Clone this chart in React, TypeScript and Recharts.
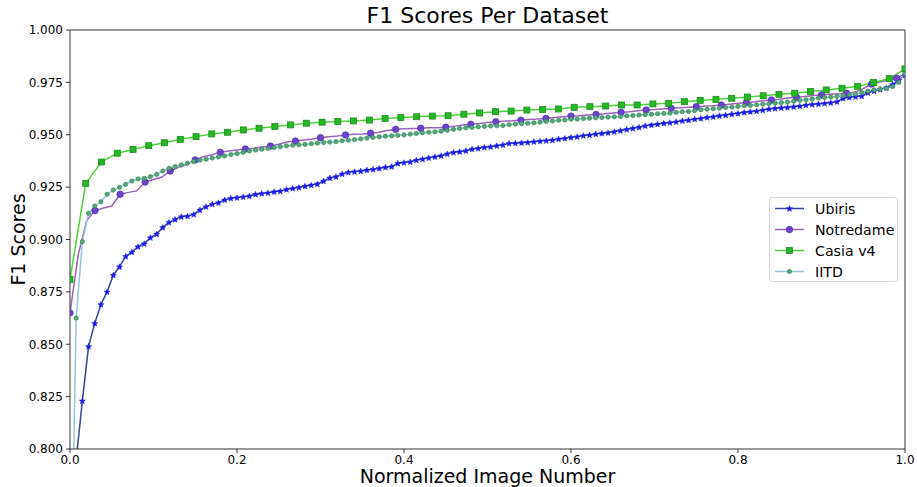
import { LineChart, Line, XAxis, YAxis, Label, ReferenceLine } from "recharts";

// sorted F1 scores per dataset
const ubiris = [
  0.700, 0.795, 0.823, 0.849, 0.860, 0.869, 0.875, 0.883, 0.887, 0.892,
  0.894, 0.8966, 0.898, 0.9009, 0.9026, 0.9058, 0.9082, 0.9096, 0.9109, 0.9112,
  0.912, 0.9141, 0.9157, 0.9169, 0.9176, 0.9189, 0.9197, 0.920, 0.9204, 0.9208,
  0.9216, 0.922, 0.9223, 0.9228, 0.9231, 0.9239, 0.9244, 0.9249, 0.9255, 0.926,
  0.9265, 0.9279, 0.9294, 0.930, 0.9313, 0.9321, 0.9324, 0.9327, 0.9332, 0.9335,
  0.934, 0.9345, 0.9348, 0.9364, 0.9367, 0.9371, 0.9379, 0.9384, 0.939, 0.9395,
  0.940, 0.9409, 0.9416, 0.9419, 0.9424, 0.9432, 0.9435, 0.944, 0.9443, 0.9448,
  0.9452, 0.9459, 0.946, 0.9462, 0.9464, 0.9467, 0.947, 0.9472, 0.9475, 0.948,
  0.9483, 0.9488, 0.9491, 0.9496, 0.9499, 0.9504, 0.9507, 0.951, 0.9515, 0.952,
  0.9526, 0.9531, 0.9536, 0.9543, 0.9547, 0.9551, 0.9555, 0.9558, 0.9562, 0.9567,
  0.957, 0.9575, 0.9578, 0.9583, 0.9586, 0.9591, 0.9594, 0.9599, 0.9602, 0.9607,
  0.961, 0.9613, 0.9618, 0.9623, 0.9626, 0.9629, 0.9631, 0.9634, 0.9637, 0.9642,
  0.9645, 0.9647, 0.965, 0.9653, 0.9658, 0.9674, 0.9679, 0.9682, 0.9685, 0.9701,
  0.9709, 0.9717, 0.9725, 0.9741, 0.9761, 0.9785,
];

const notredame = [
  0.865, 0.893, 0.909, 0.9138, 0.915, 0.916, 0.9216, 0.9225, 0.9232, 0.9274,
  0.9286, 0.9298, 0.9327, 0.9345, 0.9358, 0.938, 0.9395, 0.9405, 0.9416, 0.9422,
  0.9427, 0.9432, 0.9436, 0.9441, 0.9446, 0.9455, 0.9465, 0.947, 0.9475, 0.948,
  0.9486, 0.949, 0.9494, 0.9499, 0.9502, 0.9504, 0.9507, 0.9512, 0.952, 0.9526,
  0.9529, 0.953, 0.9531, 0.9533, 0.9534, 0.9536, 0.954, 0.9546, 0.955, 0.9554,
  0.9558, 0.9562, 0.9565, 0.9567, 0.957, 0.9573, 0.9575, 0.9578, 0.9582, 0.9586,
  0.9589, 0.9591, 0.9594, 0.9597, 0.960, 0.9604, 0.9607, 0.961, 0.9614, 0.9618,
  0.962, 0.9623, 0.9626, 0.9629, 0.9631, 0.9634, 0.9637, 0.9639, 0.9642, 0.9646,
  0.965, 0.9653, 0.9657, 0.9662, 0.9666, 0.967, 0.9675, 0.9679, 0.9683, 0.9687,
  0.969, 0.9693, 0.9696, 0.9698, 0.9703, 0.972, 0.9742, 0.9752, 0.976, 0.977,
  0.979,
];

const casia = [
  0.881, 0.9268, 0.937, 0.9412, 0.943, 0.9448, 0.9462, 0.9478, 0.9491, 0.9504,
  0.9512, 0.9523, 0.9531, 0.9539, 0.9547, 0.9555, 0.956, 0.9563, 0.9566, 0.957,
  0.9578, 0.9582, 0.9586, 0.9589, 0.9591, 0.9598, 0.9604, 0.961, 0.9613, 0.9618,
  0.9621, 0.9623, 0.9631, 0.9634, 0.9637, 0.9642, 0.9642, 0.9647, 0.965, 0.9658,
  0.9664, 0.9669, 0.9674, 0.968, 0.9686, 0.9693, 0.9698, 0.9706, 0.9714, 0.9722,
  0.9731, 0.9749, 0.9768, 0.9814,
];

const iitd = [
  0.700, 0.8625, 0.899, 0.9125, 0.916, 0.918, 0.9216, 0.9236, 0.9249, 0.9263,
  0.9279, 0.9289, 0.9292, 0.930, 0.9311, 0.9327, 0.934, 0.9348, 0.9356, 0.9364,
  0.9372, 0.9379, 0.9383, 0.9389, 0.9394, 0.9399, 0.9405, 0.941, 0.9416, 0.9423,
  0.9427, 0.9431, 0.9435, 0.9439, 0.9443, 0.9447, 0.945, 0.9452, 0.9454, 0.9457,
  0.946, 0.9463, 0.9465, 0.9467, 0.9471, 0.9474, 0.9477, 0.948, 0.9484, 0.9487,
  0.949, 0.9493, 0.9495, 0.9497, 0.9499, 0.9503, 0.9506, 0.951, 0.9512, 0.9514,
  0.9517, 0.9521, 0.9526, 0.953, 0.9533, 0.9535, 0.9538, 0.954, 0.9542, 0.9543,
  0.9544, 0.9548, 0.9551, 0.9553, 0.9555, 0.9557, 0.956, 0.9564, 0.9566, 0.9569,
  0.9571, 0.9574, 0.9575, 0.9577, 0.9579, 0.9581, 0.9582, 0.9584, 0.9586, 0.9587,
  0.959, 0.9592, 0.9594, 0.9596, 0.9598, 0.960, 0.9602, 0.9603, 0.9607, 0.961,
  0.9611, 0.9615, 0.9619, 0.9622, 0.9624, 0.9627, 0.963, 0.9632, 0.9635, 0.9638,
  0.964, 0.9643, 0.9646, 0.9648, 0.9651, 0.9653, 0.9656, 0.966, 0.9664, 0.9667,
  0.9671, 0.9675, 0.9678, 0.968, 0.9683, 0.9687, 0.9691, 0.9695, 0.9702, 0.9708,
  0.9714, 0.9718, 0.9722, 0.973, 0.975, 0.979,
];

const xTicks = [0, 0.2, 0.4, 0.6, 0.8, 1.0];
const yTicks = [0.8, 0.825, 0.85, 0.875, 0.9, 0.925, 0.95, 0.975, 1.0];

const FONT = '"DejaVu Sans", sans-serif';

// x is the normalized image number: index / (count - 1)
const toPoints = (vals: number[]) =>
  vals.map((v, i) => ({ x: i / (vals.length - 1), y: v }));

const starPath = (cx: number, cy: number, r: number) => {
  let d = "";
  for (let k = 0; k < 10; k++) {
    const rr = k % 2 === 0 ? r : r * 0.45;
    const a = -Math.PI / 2 + (k * Math.PI) / 5;
    d += (k === 0 ? "M" : "L") + (cx + rr * Math.cos(a)).toFixed(2) + "," + (cy + rr * Math.sin(a)).toFixed(2);
  }
  return d + "Z";
};

const drawStar = (cx: number, cy: number) => (
  <path d={starPath(cx, cy + 0.3, 3.2)} fill="#1a1aee" stroke="#1a1aee" strokeWidth={0.5} />
);
const drawNotre = (cx: number, cy: number) => (
  <circle cx={cx} cy={cy} r={3.2} fill="#6a44cc" stroke="#5a36b4" strokeWidth={0.9} />
);
const drawCasia = (cx: number, cy: number) => (
  <rect x={cx - 3} y={cy - 3} width={6} height={6} fill="#26b626" stroke="#1b8c1b" strokeWidth={0.8} />
);
const drawIitd = (cx: number, cy: number) => (
  <circle cx={cx} cy={cy} r={2.1} fill="#5aa878" stroke="#3a8a58" strokeWidth={0.8} />
);

const makeDot = (every: number, draw: (cx: number, cy: number) => any) => (props: any) => {
  const { cx, cy, index } = props;
  if (index % every !== 0 || cx == null || cy == null) return <g key={`d${index}`} />;
  return <g key={`d${index}`}>{draw(cx, cy)}</g>;
};

const SERIES = [
  { name: "Ubiris", data: ubiris, color: "#34459c", every: 1, draw: drawStar },
  { name: "Notredame", data: notredame, color: "#9b62b8", every: 3, draw: drawNotre },
  { name: "Casia v4", data: casia, color: "#4fd23c", every: 1, draw: drawCasia },
  { name: "IITD", data: iitd, color: "#93c6de", every: 1, draw: drawIitd },
];

export default function App() {
  return (
    <div style={{ position: "absolute", left: 0, top: 0, width: 917, height: 487, background: "#fff", fontFamily: FONT }}>
      <div
        style={{
          position: "absolute",
          left: 70,
          width: 835,
          top: 3,
          textAlign: "center",
          fontSize: 22,
          color: "#000",
        }}
      >
        F1 Scores Per Dataset
      </div>
      <LineChart width={917} height={487} margin={{ top: 30, right: 12, bottom: 0, left: 0 }}>
        <XAxis
          dataKey="x"
          type="number"
          domain={[0, 1]}
          ticks={xTicks}
          tickFormatter={(v: number) => v.toFixed(1)}
          allowDataOverflow
          height={38}
          tickSize={4}
          tickMargin={2}
          stroke="#333"
          tick={{ fill: "#000", fontSize: 12, fontFamily: FONT }}
        >
          <Label
            value="Normalized Image Number"
            position="insideBottom"
            offset={4}
            style={{ fontSize: 19, fill: "#000", fontFamily: FONT }}
          />
        </XAxis>
        <YAxis
          type="number"
          domain={[0.8, 1.0]}
          ticks={yTicks}
          tickFormatter={(v: number) => v.toFixed(3)}
          allowDataOverflow
          width={70}
          tickSize={4}
          tickMargin={3}
          stroke="#333"
          tick={{ fill: "#000", fontSize: 12, fontFamily: FONT }}
        >
          <Label
            content={({ viewBox }: any) => {
              const cy = viewBox.y + viewBox.height / 2;
              return (
                <text
                  x={25}
                  y={cy}
                  transform={`rotate(-90 25 ${cy})`}
                  textAnchor="middle"
                  style={{ fontSize: 19, fill: "#000", fontFamily: FONT }}
                >
                  F1 Scores
                </text>
              );
            }}
          />
        </YAxis>
        <ReferenceLine y={1.0} stroke="#333" strokeWidth={1} ifOverflow="visible" />
        <ReferenceLine x={1.0} stroke="#333" strokeWidth={1} ifOverflow="visible" />
        {SERIES.map((s) => (
          <Line
            key={s.name}
            data={toPoints(s.data)}
            dataKey="y"
            name={s.name}
            type="linear"
            stroke={s.color}
            strokeWidth={1.5}
            dot={makeDot(s.every, s.draw)}
            activeDot={false}
            isAnimationActive={false}
          />
        ))}
      </LineChart>
      <div
        style={{
          position: "absolute",
          left: 769,
          top: 197,
          width: 127,
          height: 83,
          border: "1px solid #d8d8d8",
          borderRadius: 3,
          background: "rgba(255,255,255,0.85)",
        }}
      >
        {SERIES.map((s) => (
          <div key={s.name} style={{ height: 21, display: "flex", alignItems: "center" }}>
            <svg width={40} height={21} style={{ display: "block" }}>
              <line x1={5} y1={10.5} x2={34} y2={10.5} stroke={s.color} strokeWidth={1.5} />
              {s.draw(19.5, 10.5)}
            </svg>
            <span style={{ fontSize: 14.2, color: "#000", marginLeft: 5 }}>{s.name}</span>
          </div>
        ))}
      </div>
    </div>
  );
}
